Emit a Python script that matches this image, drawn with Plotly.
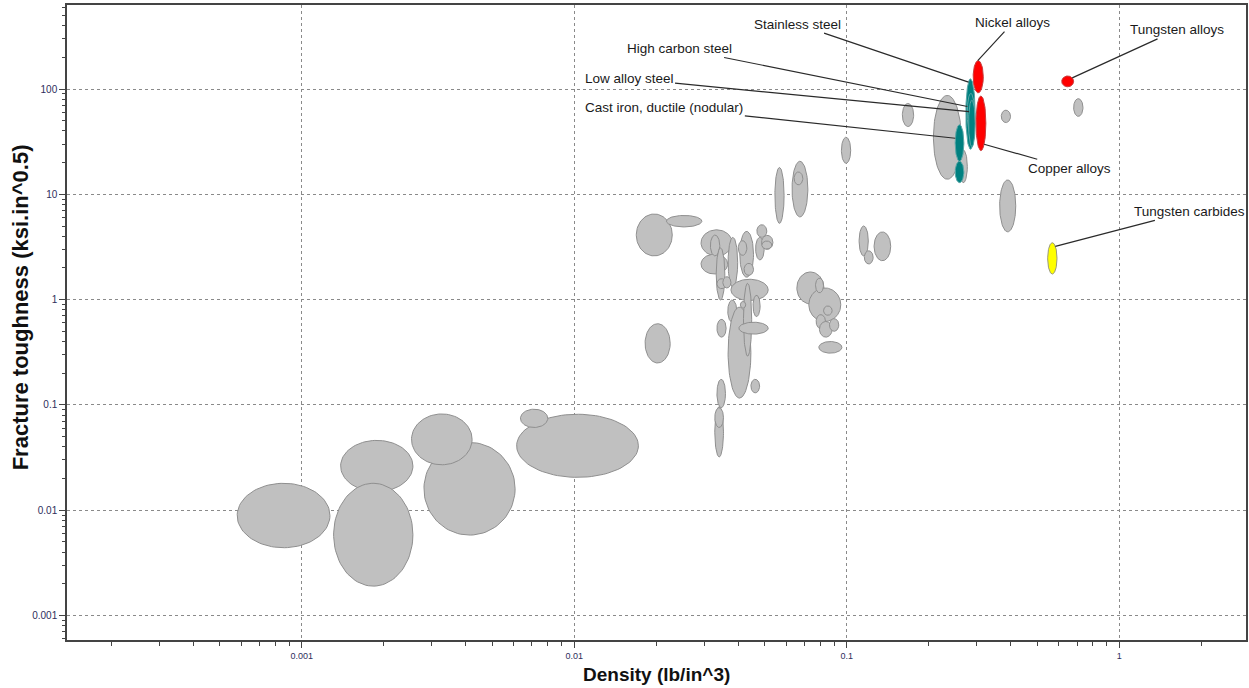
import math
import numpy as np
import plotly.graph_objects as go

# Material property bubbles: density range (lb/in^3) and fracture toughness range (ksi.in^0.5)
# The first 57 bubbles are unlabelled background materials.
names = [""] * 57 + [
    "Cast iron, ductile (nodular)", "", "Stainless steel", "High carbon steel", "Low alloy steel",
    "Nickel alloys", "Copper alloys", "Tungsten alloys",
    "Tungsten carbides",
]
family = ["other"] * 57 + ["ferrous"] * 5 + ["nonferrous"] * 3 + ["carbide"]

dens_lo = [
    5.8e-4, 1.39e-3, 1.31e-3, 2.81e-3, 2.53e-3, 6.15e-3, 6.35e-3,
    0.0169, 0.0218, 0.0182, 0.0545, 0.063, 0.0641, 0.0956, 0.0292, 0.0292, 0.0316,
    0.0332, 0.0367, 0.0334, 0.0351, 0.0405, 0.040, 0.042, 0.0468, 0.0463, 0.0487, 0.0488,
    0.0376, 0.0366, 0.0367, 0.0418, 0.0407, 0.0453, 0.0402, 0.0334, 0.0445, 0.0334,
    0.0328, 0.0328, 0.0656, 0.0726, 0.0768, 0.0822, 0.0772, 0.0794, 0.0864, 0.079,
    0.111, 0.116, 0.126, 0.364, 0.160, 0.208, 0.259, 0.369, 0.680,
    0.250, 0.250, 0.2735, 0.2767, 0.280,
    0.291, 0.298, 0.615,
    0.546,
]
dens_hi = [
    1.27e-3, 2.56e-3, 2.56e-3, 6.07e-3, 4.22e-3, 0.0172, 8.0e-3,
    0.0229, 0.0294, 0.0225, 0.0589, 0.072, 0.069, 0.1034, 0.038, 0.0366, 0.0342,
    0.0357, 0.0398, 0.0361, 0.0376, 0.0455, 0.043, 0.0455, 0.0509, 0.0498, 0.0536, 0.0531,
    0.0515, 0.0395, 0.0445, 0.0448, 0.0426, 0.0481, 0.0515, 0.0361, 0.0479, 0.0359,
    0.0353, 0.0353, 0.0825, 0.0951, 0.0822, 0.0884, 0.0836, 0.0884, 0.0935, 0.096,
    0.120, 0.125, 0.145, 0.417, 0.176, 0.263, 0.277, 0.399, 0.736,
    0.269, 0.269, 0.296, 0.2944, 0.296,
    0.317, 0.324, 0.680,
    0.591,
]
tough_lo = [
    0.0044, 0.015, 0.0019, 0.0058, 0.027, 0.0205, 0.061,
    2.6, 4.9, 0.25, 5.3, 6.1, 12.3, 19.7, 2.6, 1.75, 2.6,
    0.99, 1.31, 1.27, 1.29, 1.63, 2.63, 1.70, 3.9, 2.38, 3.0, 3.02,
    0.98, 0.61, 0.116, 0.29, 0.83, 0.69, 0.47, 0.44, 0.13, 0.094,
    0.032, 0.061, 0.91, 0.62, 1.16, 0.71, 0.53, 0.44, 0.50, 0.31,
    2.6, 2.18, 2.34, 4.4, 44, 13.9, 12.9, 48, 55,
    20.6, 12.9, 26.8, 38, 28.3,
    92, 26, 105,
    1.75,
]
tough_hi = [
    0.018, 0.046, 0.018, 0.044, 0.082, 0.0815, 0.091,
    6.5, 6.3, 0.59, 18, 20.6, 16.3, 34.8, 4.6, 2.7, 4.1,
    3.1, 3.9, 1.58, 1.65, 4.45, 3.63, 2.21, 5.14, 3.9, 4.08, 3.6,
    1.56, 0.99, 0.85, 1.43, 0.96, 1.10, 0.61, 0.65, 0.175, 0.175,
    0.096, 0.094, 1.83, 1.29, 1.60, 0.87, 0.72, 0.62, 0.66, 0.40,
    5.0, 2.91, 4.39, 13.7, 73, 87, 26.3, 63, 81,
    45.8, 20.6, 125, 91, 78.6,
    186, 86, 133,
    3.47,
]

# Leader-line labels: material, angle on its bubble where the line touches (deg), text offset (px)
label_names = ["Stainless steel", "Nickel alloys", "Tungsten alloys", "High carbon steel",
               "Low alloy steel", "Cast iron, ductile (nodular)", "Copper alloys", "Tungsten carbides"]
label_angle = [115, 95, 40, 160, 150, 165, -50, 50]
label_dx = [-171, 35, 105, -288, -340, -291, 85, 134]
label_dy = [-58, -38, -48, -58, -33, -31, 24, -35]

x_tick_vals = [0.001, 0.01, 0.1, 1]
x_tick_text = ["0.001", "0.01", "0.1", "1"]
y_tick_vals = [0.001, 0.01, 0.1, 1, 10, 100]
y_tick_text = ["0.001", "0.01", "0.1", "1", "10", "100"]

x_title = "Density (lb/in^3)"
y_title = "Fracture toughness (ksi.in^0.5)"

styles = {
    "other": dict(fill="#c0c0c0", line="#8f8f8f"),
    "ferrous": dict(fill="#008080", line="#5aa7a7"),
    "nonferrous": dict(fill="#ff0000", line="#c83c3c"),
    "carbide": dict(fill="#ffff00", line="#9a9a7a"),
}

FONT = "Liberation Sans, Arial"


def bubble(i, theta):
    """Point(s) on the log-space ellipse spanning the material's property ranges."""
    cx = (math.log10(dens_lo[i]) + math.log10(dens_hi[i])) / 2
    rx = (math.log10(dens_hi[i]) - math.log10(dens_lo[i])) / 2
    cy = (math.log10(tough_lo[i]) + math.log10(tough_hi[i])) / 2
    ry = (math.log10(tough_hi[i]) - math.log10(tough_lo[i])) / 2
    return cx + rx * np.cos(theta), cy + ry * np.sin(theta)


fig = go.Figure()
t = np.linspace(0, 2 * np.pi, 90)
for i in range(len(dens_lo)):
    lx, ly = bubble(i, t)
    st = styles[family[i]]
    fig.add_trace(go.Scatter(
        x=10 ** lx, y=10 ** ly, mode="lines", fill="toself",
        fillcolor=st["fill"], line=dict(color=st["line"], width=1),
        name=names[i] or "material", hoverinfo="name", showlegend=False,
    ))

annotations = []
for name, ang, dx, dy in zip(label_names, label_angle, label_dx, label_dy):
    i = names.index(name)
    lx, ly = bubble(i, math.radians(ang))
    annotations.append(dict(
        x=float(lx), y=float(ly), xref="x", yref="y", text=name,
        showarrow=True, arrowhead=0, arrowwidth=1.2, arrowcolor="#2a2a2a",
        ax=dx, ay=dy, font=dict(family=FONT, size=13.5, color="#1a1a1a"),
    ))

# Axis titles
annotations.append(dict(
    text=f"<b>{x_title}</b>", xref="paper", yref="paper", x=0.5, y=-0.055,
    xanchor="center", yanchor="middle", showarrow=False,
    font=dict(family=FONT, size=19, color="#111111"),
))
annotations.append(dict(
    text=f"<b>{y_title}</b>", xref="paper", yref="paper", x=-0.0398, y=0.524,
    xanchor="center", yanchor="middle", showarrow=False, textangle=-90,
    font=dict(family=FONT, size=22, color="#111111"),
))


def minor_ticks(lo_exp, hi_exp):
    return [m * 10.0 ** e for e in range(lo_exp, hi_exp) for m in range(2, 10)]


axis_common = dict(
    type="log", showline=True, linecolor="#444444", linewidth=1.5, mirror=True,
    showgrid=True, gridcolor="#8a8a8a", gridwidth=1, griddash="3px,3px",
    ticks="outside", ticklen=6, tickcolor="#444444", zeroline=False,
    tickfont=dict(family=FONT, size=10, color="#2e2e5c"),
)

fig.update_layout(
    width=1249, height=688,
    margin=dict(l=67, r=1, t=5, b=48),
    paper_bgcolor="white", plot_bgcolor="white",
    showlegend=False,
    annotations=annotations,
    xaxis=dict(
        axis_common, range=[-3.861, 0.465],
        tickmode="array", tickvals=x_tick_vals, ticktext=x_tick_text,
        tickfont=dict(family=FONT, size=9, color="#2e2e5c"),
        minor=dict(tickmode="array", tickvals=minor_ticks(-4, 1), ticks="outside",
                   ticklen=4, tickcolor="#444444", showgrid=False),
    ),
    yaxis=dict(
        axis_common, range=[-3.233, 2.798],
        tickmode="array", tickvals=y_tick_vals, ticktext=y_tick_text,
        minor=dict(tickmode="array", tickvals=minor_ticks(-4, 3), ticks="outside",
                   ticklen=3, tickcolor="#444444", showgrid=False),
    ),
)

fig.write_html("out.html")
